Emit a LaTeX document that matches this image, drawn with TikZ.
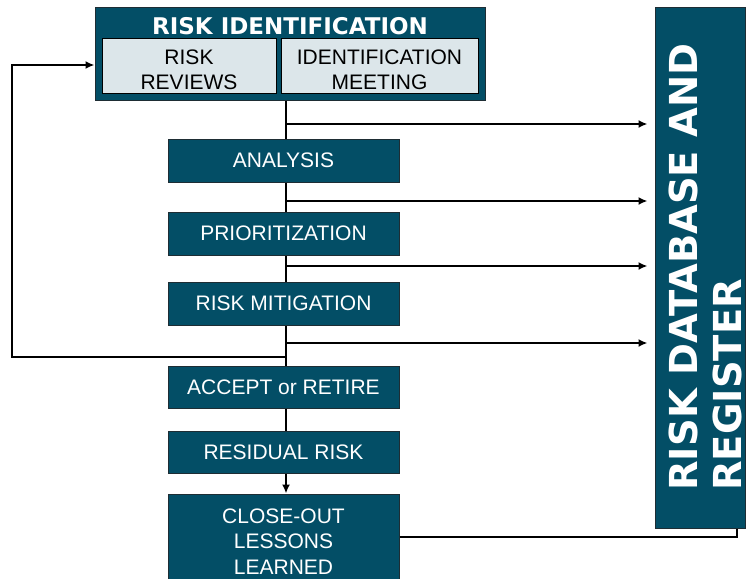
\documentclass[tikz,border=0pt]{standalone}
\usepackage{fontspec}
\setmainfont{Liberation Sans}
\newfontfamily\headfont{DejaVu Sans}
\usetikzlibrary{arrows.meta}
\definecolor{teal}{RGB}{3,78,102}
\definecolor{edge}{RGB}{30,45,52}
\definecolor{pale}{RGB}{220,230,234}
\tikzset{
  stepbox/.style={draw=edge, line width=1pt, fill=teal, text=white, minimum width=231pt,
    inner sep=0pt, font=\fontsize{21}{25.5}\selectfont, align=center},
  cellbox/.style={draw=black, line width=1pt, fill=pale, inner sep=0pt, minimum height=54pt},
  celltext/.style={text=black, inner sep=0pt, font=\fontsize{21}{25}\selectfont, align=center},
  flow/.style={line width=2pt, black},
  arr/.style={flow, -{Latex[length=9pt,width=8pt]}},
}
\begin{document}
\begin{tikzpicture}[x=1pt, y=-1pt]
\useasboundingbox (0,0) rectangle (749,578);
\clip (0,0) rectangle (749,578);

% identification block with its two sub-steps
\node[draw=edge, line width=1pt, fill=teal, minimum width=390pt, minimum height=92pt, inner sep=0pt] (ident) at (290,54) {};
\node[text=white, font=\headfont\bfseries\fontsize{23}{26}\selectfont, inner sep=0pt] (identtitle) at (290,26) {RISK IDENTIFICATION};
\node[cellbox, minimum width=174pt] (reviews) at (189,66) {};
\node[cellbox, minimum width=197pt] (meeting) at (379.5,66) {};
\node[celltext] (reviewstext) at (189,69.5) {RISK\\REVIEWS};
\node[celltext] (meetingtext) at (379.5,69.5) {IDENTIFICATION\\MEETING};

% process steps
\node[stepbox, minimum height=43pt] (analysis) at (283.5,160.5) {ANALYSIS};
\node[stepbox, minimum height=43pt] (prior) at (283.5,233.5) {PRIORITIZATION};
\node[stepbox, minimum height=43pt] (mitig) at (283.5,303.5) {RISK MITIGATION};
\node[stepbox, minimum height=42pt] (accept) at (283.5,387) {ACCEPT or RETIRE};
\node[stepbox, minimum height=42pt] (resid) at (283.5,452) {RESIDUAL RISK};
\node[stepbox, minimum height=95pt] (close) at (283.5,541.5) {CLOSE-OUT\\LESSONS\\LEARNED};

% database column
\node[draw=edge, line width=1pt, fill=teal, minimum width=90pt, minimum height=520pt, inner sep=0pt] (reg) at (700,268) {};
\node[rotate=90, text=white, align=left, inner sep=0pt,
      font=\headfont\bfseries\fontsize{38.5}{44}\selectfont] (regtext) at (705,267)
      {RISK DATABASE AND\\REGISTER};

% main trunk
\coordinate (trunk) at (286,0);
\draw[flow] (ident.south -| trunk) -- (analysis.north -| trunk);
\draw[flow] (analysis.south -| trunk) -- (prior.north -| trunk);
\draw[flow] (prior.south -| trunk) -- (mitig.north -| trunk);
\draw[flow] (mitig.south -| trunk) -- (accept.north -| trunk);
\draw[flow] (accept.south -| trunk) -- (resid.north -| trunk);
\draw[arr] (resid.south -| trunk) -- (close.north -| trunk);

% branches into the database
\coordinate (b1) at (286,124);
\coordinate (b2) at (286,201);
\coordinate (b3) at (286,266);
\coordinate (b4) at (286,343);
\foreach \b in {b1,b2,b3,b4}
  \draw[arr, shorten >=7pt] (\b) -- (\b -| reg.west);

% feedback loop back to identification
\coordinate (fbA) at (286,357);
\coordinate (fbB) at (12,65);
\draw[arr] (fbA) -| (fbB) -- (fbB -| ident.west);

% close-out record into the database
\draw[flow] ([yshift=4.5pt]close.east) -| ([xshift=37pt]reg.south);
\end{tikzpicture}
\end{document}
